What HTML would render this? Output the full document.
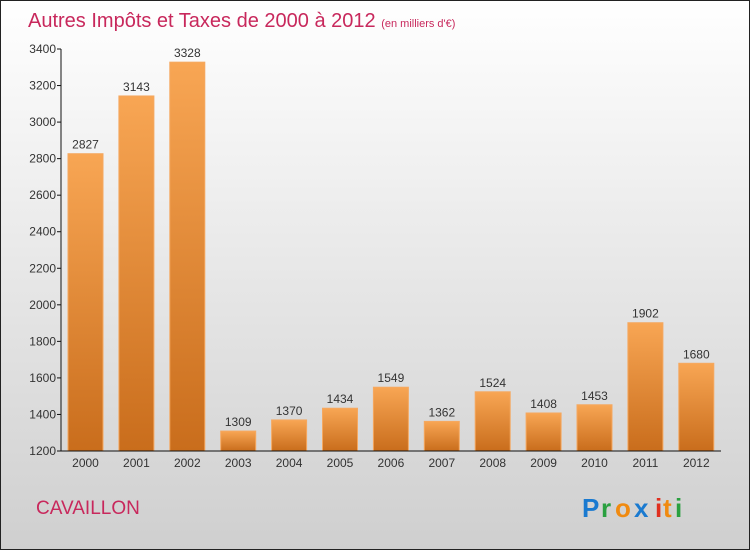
<!DOCTYPE html>
<html><head><meta charset="utf-8"><style>
body{margin:0;}
svg{display:block;font-family:"Liberation Sans",sans-serif;}
</style></head><body>
<svg id="chart" width="750" height="550" viewBox="0 0 750 550">
<defs>
<linearGradient id="bg" x1="0" y1="0" x2="0" y2="1"><stop offset="0" stop-color="#ffffff"/><stop offset="1" stop-color="#cfcfcf"/></linearGradient>
<linearGradient id="bar" x1="0" y1="0" x2="0" y2="1"><stop offset="0" stop-color="#f8a654"/><stop offset="1" stop-color="#c96d1c"/></linearGradient>
</defs>
<rect x="0.5" y="0.5" width="749" height="549" fill="url(#bg)" stroke="#222"/>
<text x="28" y="27" font-size="20" fill="#c8285c">Autres Impôts et Taxes de 2000 à 2012 <tspan font-size="11">(en milliers d'€)</tspan></text>
<g id="bars"></g>
<g id="axes"></g>
<text x="36" y="514" font-size="19" fill="#c8285c">CAVAILLON</text>
<g font-size="26" font-weight="bold">
<text x="582" y="517" fill="#1a7ad0">P</text><text x="601" y="517" fill="#2aa040">r</text><text x="615" y="517" fill="#f08a10">o</text><text x="634" y="517" fill="#1a7ad0">x</text><text x="655" y="517" fill="#e03020">i</text><text x="663" y="517" fill="#f08a10">t</text><text x="675" y="517" fill="#2aa040">i</text>
</g>
</svg>
<script>
const years=["2000","2001","2002","2003","2004","2005","2006","2007","2008","2009","2010","2011","2012"];
const values=[2827,3143,3328,1309,1370,1434,1549,1362,1524,1408,1453,1902,1680];
const ticks=[1200,1400,1600,1800,2000,2200,2400,2600,2800,3000,3200,3400];
const NS="http://www.w3.org/2000/svg";
function y(v){return 451-(v-1200)*(402/2200);}
function x(i){return 68+i*50.9;}
function mk(t,a,p){const e=document.createElementNS(NS,t);for(const k in a)e.setAttribute(k,a[k]);p.appendChild(e);return e;}
const bars=document.getElementById('bars'),axes=document.getElementById('axes');
values.forEach((v,i)=>{
 const r=mk('rect',{x:x(i),y:y(v),width:35,height:451-y(v),fill:'url(#bar)',stroke:'#f5a860','stroke-width':1},bars);
 
 
 const t=mk('text',{x:x(i)+17.5,y:y(v)-5,'font-size':12,'text-anchor':'middle',fill:'#333'},bars);
 t.textContent=v;
 
 
 const l=mk('text',{x:x(i)+17.5,y:467,'font-size':12,'text-anchor':'middle',fill:'#333'},axes);
 l.textContent=years[i];
 
 
});
const ya=mk('line',{x1:61,y1:49,x2:61,y2:451,stroke:'#111'},axes);


const xa=mk('line',{x1:61,y1:451,x2:721,y2:451,stroke:'#111'},axes);


ticks.forEach(v=>{
 mk('line',{x1:57,x2:61,y1:y(v),y2:y(v),stroke:'#111'},axes);
 const t=mk('text',{x:56,y:y(v)+4,'font-size':12,'text-anchor':'end',fill:'#333'},axes);
 t.textContent=v;
 
 
});
</script>
</body></html>
